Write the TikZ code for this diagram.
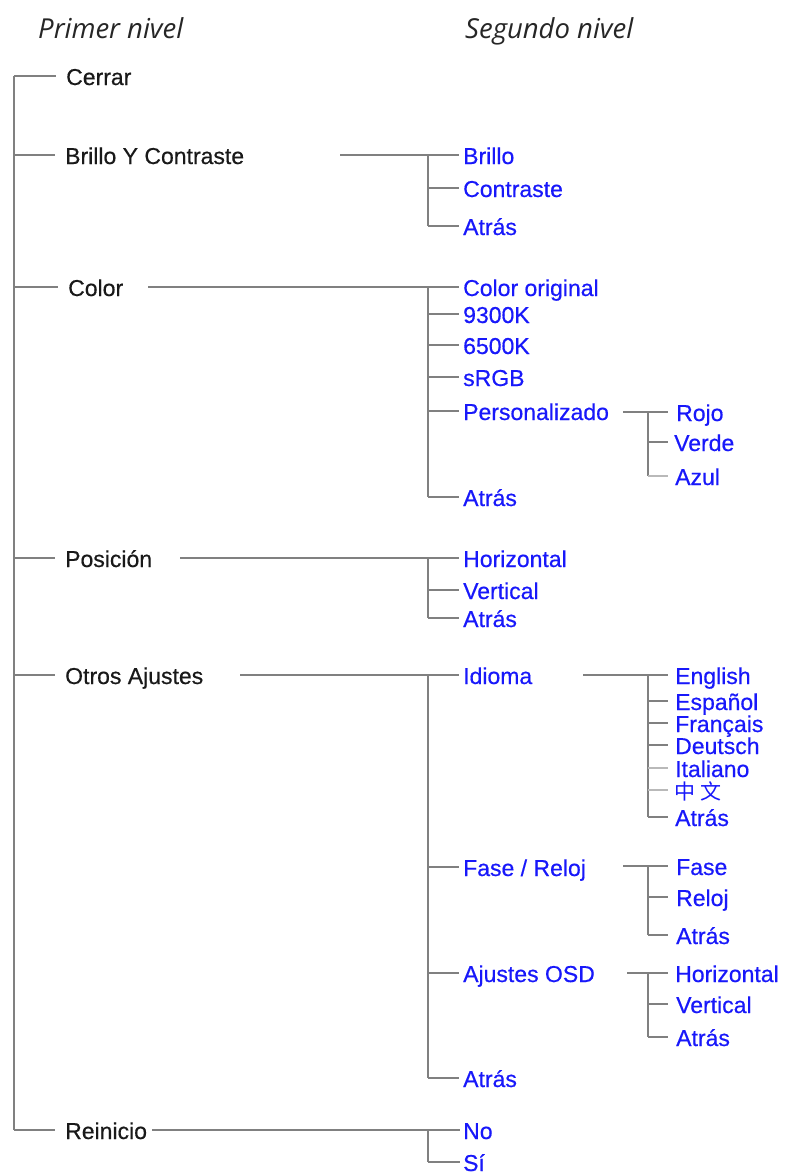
\documentclass[tikz,border=0pt]{standalone}
\usepackage{fontspec}
\setmainfont{Liberation Sans}
\newfontfamily\gruesa{Liberation Sans}[FakeBold=0.5]
\newfontfamily\titulofont{Open Sans}
\newfontfamily\cjk{Noto Sans CJK SC}
\definecolor{azul}{RGB}{24,24,250}
\definecolor{gris}{RGB}{128,128,128}
\definecolor{grisclaro}{RGB}{185,185,185}
\tikzset{
  titulo/.style={anchor=base west, inner sep=0pt, font=\titulofont\itshape\fontsize{27.5}{32}\selectfont, text=black!85},
  nivel/.style={anchor=west, inner sep=0pt, text height=18pt, text depth=0pt, font=\gruesa\fontsize{23}{27}\selectfont},
  primero/.style={nivel, text=black!90},
  segundo/.style={nivel, text=azul},
  rama/.style={draw=gris, line width=1.5pt},
  ramaclara/.style={draw=grisclaro, line width=1.5pt},
}
\begin{document}
\begin{tikzpicture}[x=1pt,y=-1pt]
\useasboundingbox (0,0) rectangle (795,1175);

\node[titulo] (prim) at (38,38) {Primer nivel};
\node[titulo] (seg) at (465,38) {Segundo nivel};

% columnas de los troncos
\coordinate (ej1) at (14,0);
\coordinate (ej2) at (428,0);
\coordinate (ej3) at (648,0);

% primer nivel
\node[primero] (cerrar) at (66,76) {Cerrar};
\node[primero] (brillo) at (65,155) {Brillo Y Contraste};
\node[primero] (color) at (68,287) {Color};
\node[primero] (posicion) at (65,558) {Posición};
\node[primero] (otros) at (65,675) {Otros Ajustes};
\node[primero] (reinicio) at (65,1130) {Reinicio};

\draw[rama] (ej1 |- cerrar) -- (ej1 |- reinicio);
\draw[rama, shorten >=10pt] (ej1 |- cerrar) -- (cerrar);
\draw[rama, shorten >=10pt] (ej1 |- brillo) -- (brillo);
\draw[rama, shorten >=10pt] (ej1 |- color) -- (color);
\draw[rama, shorten >=10pt] (ej1 |- posicion) -- (posicion);
\draw[rama, shorten >=10pt] (ej1 |- otros) -- (otros);
\draw[rama, shorten >=10pt] (ej1 |- reinicio) -- (reinicio);

% Brillo Y Contraste
\node[segundo] (bBrillo) at (463,155) {Brillo};
\node[segundo] (bContraste) at (463,188) {Contraste};
\node[segundo] (bAtras) at (463,226) {Atrás};
\coordinate (bIn) at (340,155);
\draw[rama, shorten >=4pt] (bIn) -- (bBrillo);
\draw[rama] (ej2 |- bBrillo) -- (ej2 |- bAtras);
\draw[rama, shorten >=4pt] (ej2 |- bContraste) -- (bContraste);
\draw[rama, shorten >=4pt] (ej2 |- bAtras) -- (bAtras);

% Color
\node[segundo] (cOriginal) at (463,287) {Color original};
\node[segundo] (c9300) at (463,314) {9300K};
\node[segundo] (c6500) at (463,345) {6500K};
\node[segundo] (cSrgb) at (463,377) {sRGB};
\node[segundo] (cPers) at (463,411) {Personalizado};
\node[segundo] (cAtras) at (463,497) {Atrás};
\coordinate (cIn) at (148,287);
\draw[rama, shorten >=4pt] (cIn) -- (cOriginal);
\draw[rama] (ej2 |- cOriginal) -- (ej2 |- cAtras);
\draw[rama, shorten >=4pt] (ej2 |- c9300) -- (c9300);
\draw[rama, shorten >=4pt] (ej2 |- c6500) -- (c6500);
\draw[rama, shorten >=4pt] (ej2 |- cSrgb) -- (cSrgb);
\draw[rama, shorten >=4pt] (ej2 |- cPers) -- (cPers);
\draw[rama, shorten >=4pt] (ej2 |- cAtras) -- (cAtras);

% Personalizado
\node[segundo] (pRojo) at (676,412) {Rojo};
\node[segundo] (pVerde) at (674,442) {Verde};
\node[segundo] (pAzul) at (675,476) {Azul};
\coordinate (pIn) at (623,412);
\draw[rama, shorten >=8pt] (pIn) -- (pRojo);
\draw[rama] (ej3 |- pRojo) -- (ej3 |- pAzul);
\draw[rama, shorten >=6pt] (ej3 |- pVerde) -- (pVerde);
\draw[ramaclara, shorten >=7pt] (ej3 |- pAzul) -- (pAzul);

% Posicion
\node[segundo] (oHoriz) at (463,558) {Horizontal};
\node[segundo] (oVert) at (463,590) {Vertical};
\node[segundo] (oAtras) at (463,618) {Atrás};
\coordinate (oIn) at (180,558);
\draw[rama, shorten >=4pt] (oIn) -- (oHoriz);
\draw[rama] (ej2 |- oHoriz) -- (ej2 |- oAtras);
\draw[rama, shorten >=4pt] (ej2 |- oVert) -- (oVert);
\draw[rama, shorten >=4pt] (ej2 |- oAtras) -- (oAtras);

% Otros Ajustes
\node[segundo] (aIdioma) at (463,675) {Idioma};
\node[segundo] (aFase) at (463,867) {Fase / Reloj};
\node[segundo] (aOsd) at (463,973) {Ajustes OSD};
\node[segundo] (aAtras) at (463,1078) {Atrás};
\coordinate (aIn) at (240,675);
\draw[rama, shorten >=4pt] (aIn) -- (aIdioma);
\draw[rama] (ej2 |- aIdioma) -- (ej2 |- aAtras);
\draw[rama, shorten >=4pt] (ej2 |- aFase) -- (aFase);
\draw[rama, shorten >=4pt] (ej2 |- aOsd) -- (aOsd);
\draw[rama, shorten >=4pt] (ej2 |- aAtras) -- (aAtras);

% Idioma
\node[segundo] (iEng) at (675,675) {English};
\node[segundo] (iEsp) at (675,701) {Español};
\node[segundo] (iFra) at (675,723) {Français};
\node[segundo] (iDeu) at (675,745) {Deutsch};
\node[segundo] (iIta) at (675,768) {Italiano};
\node[segundo, font=\cjk\fontsize{21}{24}\selectfont] (iChi) at (674,790) {中\hspace{5pt}文};
\node[segundo] (iAtras) at (675,817) {Atrás};
\coordinate (iIn) at (583,675);
\draw[rama, shorten >=7pt] (iIn) -- (iEng);
\draw[rama] (ej3 |- iEng) -- (ej3 |- iAtras);
\draw[rama, shorten >=7pt] (ej3 |- iEsp) -- (iEsp);
\draw[rama, shorten >=7pt] (ej3 |- iFra) -- (iFra);
\draw[rama, shorten >=7pt] (ej3 |- iDeu) -- (iDeu);
\draw[ramaclara, shorten >=7pt] (ej3 |- iIta) -- (iIta);
\draw[ramaclara, shorten >=6pt] (ej3 |- iChi) -- (iChi);
\draw[rama, shorten >=7pt] (ej3 |- iAtras) -- (iAtras);

% Fase / Reloj
\node[segundo] (fFase) at (676,866) {Fase};
\node[segundo] (fReloj) at (676,897) {Reloj};
\node[segundo] (fAtras) at (676,935) {Atrás};
\coordinate (fIn) at (623,866);
\draw[rama, shorten >=8pt] (fIn) -- (fFase);
\draw[rama] (ej3 |- fFase) -- (ej3 |- fAtras);
\draw[rama, shorten >=8pt] (ej3 |- fReloj) -- (fReloj);
\draw[rama, shorten >=8pt] (ej3 |- fAtras) -- (fAtras);

% Ajustes OSD
\node[segundo] (dHoriz) at (675,973) {Horizontal};
\node[segundo] (dVert) at (676,1004) {Vertical};
\node[segundo] (dAtras) at (676,1037) {Atrás};
\coordinate (dIn) at (627,973);
\draw[rama, shorten >=7pt] (dIn) -- (dHoriz);
\draw[rama] (ej3 |- dHoriz) -- (ej3 |- dAtras);
\draw[rama, shorten >=8pt] (ej3 |- dVert) -- (dVert);
\draw[rama, shorten >=8pt] (ej3 |- dAtras) -- (dAtras);

% Reinicio
\node[segundo] (rNo) at (463,1130) {No};
\node[segundo] (rSi) at (463,1162) {Sí};
\coordinate (rIn) at (152,1130);
\draw[rama, shorten >=3pt] (rIn) -- (rNo);
\draw[rama] (ej2 |- rNo) -- (ej2 |- rSi);
\draw[rama, shorten >=3pt] (ej2 |- rSi) -- (rSi);
\end{tikzpicture}
\end{document}
